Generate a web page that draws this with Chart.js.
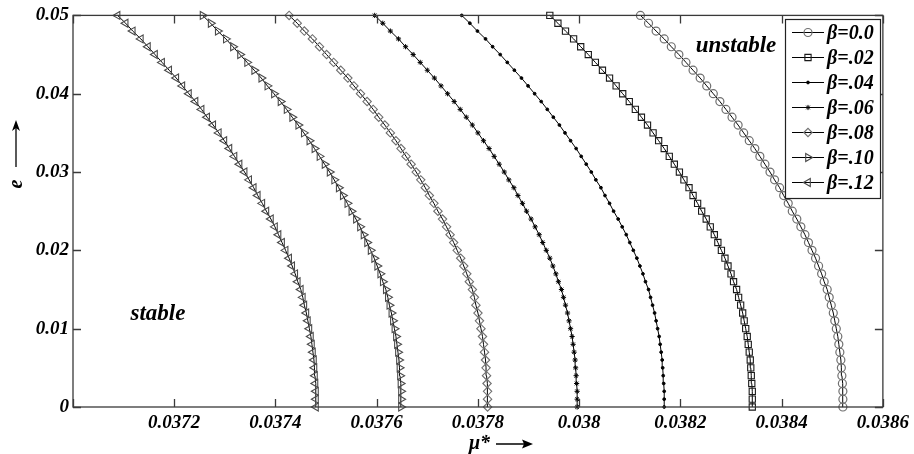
<!DOCTYPE html>
<html lang="en">
<head>
<meta charset="UTF-8">
<title>Stability boundary e vs mu*</title>
<script src="https://cdn.jsdelivr.net/npm/chart.js"></script>
<style>
  body { margin: 0; background: #fff; }
  #wrap { width: 914px; height: 454px; }
</style>
</head>
<body>
<div id="wrap"><canvas id="stabChart" width="914" height="454"></canvas></div>
<script>
// eccentricity values (y)
const eValues = [0,0.001,0.002,0.003,0.004,0.005,0.006,0.007,0.008,0.009,
  0.010,0.011,0.012,0.013,0.014,0.015,0.016,0.017,0.018,0.019,
  0.020,0.021,0.022,0.023,0.024,0.025,0.026,0.027,0.028,0.029,
  0.030,0.031,0.032,0.033,0.034,0.035,0.036,0.037,0.038,0.039,
  0.040,0.041,0.042,0.043,0.044,0.045,0.046,0.047,0.048,0.049,0.050];

// critical mu*, one value per e above
const muBeta000 = [0.038521,0.038521,0.038521,0.03852,0.038519,0.038518,0.038517,0.038515,0.038513,0.038511,
  0.038508,0.038505,0.038502,0.038498,0.038494,0.03849,0.038484,0.038479,0.038473,0.038467,
  0.03846,0.038453,0.038446,0.038438,0.03843,0.038421,0.038413,0.038404,0.038396,0.038386,
  0.038377,0.038367,0.038357,0.038347,0.038336,0.038325,0.038314,0.038302,0.03829,0.038278,
  0.038265,0.038252,0.038239,0.038225,0.038211,0.038197,0.038182,0.038168,0.038152,0.038137,0.038121];
const muBeta002 = [0.038342,0.038342,0.038342,0.038341,0.03834,0.038339,0.038338,0.038336,0.038334,0.038332,
  0.038329,0.038326,0.038323,0.038319,0.038315,0.038311,0.038305,0.0383,0.038294,0.038288,
  0.038281,0.038274,0.038267,0.038259,0.038251,0.038242,0.038234,0.038225,0.038217,0.038207,
  0.038198,0.038188,0.038178,0.038168,0.038157,0.038146,0.038135,0.038123,0.038111,0.038099,
  0.038086,0.038073,0.03806,0.038046,0.038032,0.038018,0.038003,0.037989,0.037973,0.037958,0.037942];
const muBeta004 = [0.038168,0.038168,0.038168,0.038167,0.038166,0.038165,0.038164,0.038162,0.03816,0.038158,
  0.038155,0.038152,0.038149,0.038145,0.038141,0.038137,0.038131,0.038126,0.03812,0.038114,
  0.038107,0.0381,0.038093,0.038085,0.038077,0.038068,0.03806,0.038051,0.038043,0.038033,
  0.038024,0.038014,0.038004,0.037994,0.037983,0.037972,0.037961,0.037949,0.037937,0.037925,
  0.037912,0.037899,0.037886,0.037872,0.037858,0.037844,0.037829,0.037815,0.037799,0.037784,0.037768];
const muBeta006 = [0.037996,0.037996,0.037996,0.037995,0.037994,0.037993,0.037992,0.03799,0.037988,0.037986,
  0.037983,0.03798,0.037977,0.037973,0.037969,0.037965,0.037959,0.037954,0.037948,0.037942,
  0.037935,0.037928,0.037921,0.037913,0.037905,0.037896,0.037888,0.037879,0.037871,0.037861,
  0.037852,0.037842,0.037832,0.037822,0.037811,0.0378,0.037789,0.037777,0.037765,0.037753,
  0.03774,0.037727,0.037714,0.0377,0.037686,0.037672,0.037657,0.037643,0.037627,0.037612,0.037596];
const muBeta008 = [0.037819,0.037819,0.037819,0.037818,0.037817,0.037816,0.037815,0.037813,0.037811,0.037809,
  0.037806,0.037803,0.0378,0.037796,0.037793,0.037789,0.037783,0.037778,0.037772,0.037766,
  0.037759,0.037752,0.037745,0.037738,0.03773,0.037721,0.037713,0.037704,0.037696,0.037687,
  0.037678,0.037668,0.037658,0.037648,0.037638,0.037627,0.037616,0.037604,0.037593,0.037581,
  0.037568,0.037555,0.037543,0.037529,0.037515,0.037501,0.037487,0.037473,0.037457,0.037443,0.037427];
const muBeta010 = [0.037648,0.037648,0.037648,0.037647,0.037646,0.037645,0.037644,0.037642,0.03764,0.037638,
  0.037635,0.037632,0.037629,0.037625,0.037622,0.037618,0.037612,0.037607,0.037601,0.037595,
  0.037588,0.037581,0.037574,0.037567,0.037559,0.03755,0.037542,0.037533,0.037525,0.037516,
  0.037507,0.037497,0.037487,0.037477,0.037467,0.037456,0.037445,0.037433,0.037422,0.03741,
  0.037397,0.037384,0.037372,0.037358,0.037344,0.03733,0.037316,0.037302,0.037286,0.037272,0.037256];
const muBeta012 = [0.03748,0.03748,0.03748,0.037479,0.037478,0.037477,0.037476,0.037474,0.037472,0.03747,
  0.037467,0.037464,0.037461,0.037457,0.037454,0.03745,0.037444,0.037439,0.037433,0.037427,
  0.03742,0.037413,0.037406,0.037399,0.037391,0.037382,0.037374,0.037365,0.037357,0.037348,
  0.037339,0.037329,0.037319,0.037309,0.037299,0.037288,0.037277,0.037265,0.037254,0.037242,
  0.037229,0.037216,0.037204,0.03719,0.037176,0.037162,0.037148,0.037134,0.037118,0.037104,0.037088];

const betaLabels = ['\u03B2=0.0', '\u03B2=.02', '\u03B2=.04', '\u03B2=.06', '\u03B2=.08', '\u03B2=.10', '\u03B2=.12'];
const muSeries = [muBeta000, muBeta002, muBeta004, muBeta006, muBeta008, muBeta010, muBeta012];

const xTicksMin = 0.037, xTicksMax = 0.0386, xStep = 0.0002;
const yTicksMin = 0, yTicksMax = 0.05, yStep = 0.01;

const serif = "'Liberation Serif', 'Times New Roman', serif";

// marker look per series (MATLAB-ish)
const markers = [
  { pointStyle: 'circle',   radius: 4.0, rotation: 0,   border: '#707070', fill: 'rgba(0,0,0,0)', bw: 1.2 },
  { pointStyle: 'rect',     radius: 4.4, rotation: 0,   border: '#1a1a1a', fill: 'rgba(0,0,0,0)', bw: 1.1 },
  { pointStyle: 'circle',   radius: 1.4, rotation: 0,   border: '#000',    fill: '#000',          bw: 1 },
  { pointStyle: 'star',     radius: 2.6, rotation: 0,   border: '#000',    fill: '#000',          bw: 1 },
  { pointStyle: 'rectRot',  radius: 4.2, rotation: 0,   border: '#707070', fill: 'rgba(0,0,0,0)', bw: 1.1 },
  { pointStyle: 'triangle', radius: 4.6, rotation: 90,  border: '#4a4a4a', fill: 'rgba(0,0,0,0)', bw: 1.1 },
  { pointStyle: 'triangle', radius: 4.6, rotation: -90, border: '#4a4a4a', fill: 'rgba(0,0,0,0)', bw: 1.1 }
];

const datasets = muSeries.map((mu, i) => ({
  label: betaLabels[i],
  data: mu.map((m, k) => ({ x: m, y: eValues[k] })),
  showLine: true,
  borderColor: '#000',
  borderWidth: 1,
  pointStyle: markers[i].pointStyle,
  pointRadius: markers[i].radius,
  pointRotation: markers[i].rotation,
  pointBorderColor: markers[i].border,
  pointBackgroundColor: markers[i].fill,
  pointBorderWidth: markers[i].bw,
  clip: false
}));

// frame, inward ticks, legend box and the free text
const decorPlugin = {
  id: 'decor',
  afterDatasetsDraw(chart) {
    const { ctx, chartArea: a, scales } = chart;
    const xs = scales.x, ys = scales.y;
    ctx.save();
    ctx.strokeStyle = '#3a3a3a';
    ctx.lineWidth = 1.3;
    ctx.strokeRect(a.left, a.top, a.right - a.left, a.bottom - a.top);
    const tl = 8;
    ctx.beginPath();
    xs.ticks.forEach(t => {
      const px = Math.round(xs.getPixelForValue(t.value)) + 0.5;
      ctx.moveTo(px, a.bottom); ctx.lineTo(px, a.bottom - tl);
      ctx.moveTo(px, a.top); ctx.lineTo(px, a.top + tl);
    });
    ys.ticks.forEach(t => {
      const py = Math.round(ys.getPixelForValue(t.value)) + 0.5;
      ctx.moveTo(a.left, py); ctx.lineTo(a.left + tl, py);
      ctx.moveTo(a.right, py); ctx.lineTo(a.right - tl, py);
    });
    ctx.stroke();

    // region labels
    ctx.fillStyle = '#000';
    ctx.font = 'italic bold 23px ' + serif;
    ctx.textAlign = 'center';
    ctx.textBaseline = 'middle';
    ctx.fillText('unstable', 736, 46);
    ctx.fillText('stable', 158, 314);

    // legend
    const lx = 785, ly = 19, lw = 95, lh = 179, rowH = 25;
    ctx.fillStyle = '#fff';
    ctx.fillRect(lx, ly, lw, lh);
    ctx.strokeStyle = '#222';
    ctx.lineWidth = 1.2;
    ctx.strokeRect(lx + 0.5, ly + 0.5, lw, lh);
    chart.data.datasets.forEach((ds, i) => {
      const cy = ly + 13.5 + i * rowH;
      ctx.strokeStyle = '#000';
      ctx.lineWidth = 1;
      ctx.beginPath();
      ctx.moveTo(lx + 7, cy); ctx.lineTo(lx + 39, cy);
      ctx.stroke();
      ctx.strokeStyle = ds.pointBorderColor;
      ctx.fillStyle = ds.pointBackgroundColor;
      ctx.lineWidth = ds.pointBorderWidth;
      Chart.helpers.drawPoint(ctx, {
        pointStyle: ds.pointStyle,
        rotation: ds.pointRotation,
        radius: ds.pointRadius,
        borderWidth: ds.pointBorderWidth
      }, lx + 23, cy);
      ctx.fillStyle = '#000';
      ctx.font = 'italic bold 20px ' + serif;
      ctx.textAlign = 'left';
      ctx.textBaseline = 'middle';
      ctx.fillText(ds.label, lx + 42, cy + 1);
    });

    // axis titles with arrows
    ctx.fillStyle = '#000';
    ctx.strokeStyle = '#000';
    ctx.lineWidth = 1.3;
    ctx.font = 'italic bold 20px ' + serif;
    ctx.textAlign = 'left';
    ctx.textBaseline = 'alphabetic';
    ctx.fillText('\u03BC*', 469, 449);
    ctx.beginPath();
    ctx.moveTo(496, 444); ctx.lineTo(530, 444);
    ctx.stroke();
    ctx.beginPath();
    ctx.moveTo(533, 444); ctx.lineTo(522, 439.5); ctx.lineTo(524, 444); ctx.lineTo(522, 448.5);
    ctx.closePath(); ctx.fill();

    ctx.save();
    ctx.translate(22, 184);
    ctx.rotate(-Math.PI / 2);
    ctx.textAlign = 'center';
    ctx.fillText('e', 0, 0);
    ctx.restore();
    ctx.beginPath();
    ctx.moveTo(16, 167); ctx.lineTo(16, 124);
    ctx.stroke();
    ctx.beginPath();
    ctx.moveTo(16, 120); ctx.lineTo(12, 131); ctx.lineTo(16, 128); ctx.lineTo(20, 131);
    ctx.closePath(); ctx.fill();
    ctx.restore();
  }
};

const ctx = document.getElementById('stabChart').getContext('2d');
const stabChart = new Chart(ctx, {
  type: 'scatter',
  data: { datasets: datasets },
  options: {
    responsive: false,
    animation: false,
    devicePixelRatio: 1,
    layout: { padding: { left: 0, right: 30, top: 13, bottom: 0 } },
    plugins: {
      legend: { display: false },
      tooltip: { enabled: false }
    },
    scales: {
      x: {
        type: 'linear',
        min: xTicksMin,
        max: xTicksMax,
        grid: { display: false, drawTicks: false },
        border: { display: false },
        ticks: {
          stepSize: xStep,
          autoSkip: false,
          maxRotation: 0,
          padding: 5,
          color: '#000',
          font: { family: serif, size: 19, style: 'italic', weight: 'bold' },
          callback: v => Math.abs(v - xTicksMin) < 1e-9 ? '' : String(Number(v.toFixed(4)))
        },
        afterFit: s => { s.height = 47; }
      },
      y: {
        type: 'linear',
        min: yTicksMin,
        max: yTicksMax,
        grid: { display: false, drawTicks: false },
        border: { display: false },
        ticks: {
          stepSize: yStep,
          padding: 4,
          color: '#000',
          font: { family: serif, size: 19, style: 'italic', weight: 'bold' },
          callback: v => String(Number(v.toFixed(2)))
        },
        afterFit: s => { s.width = 73; }
      }
    }
  },
  plugins: [decorPlugin]
});
</script>
</body>
</html>
